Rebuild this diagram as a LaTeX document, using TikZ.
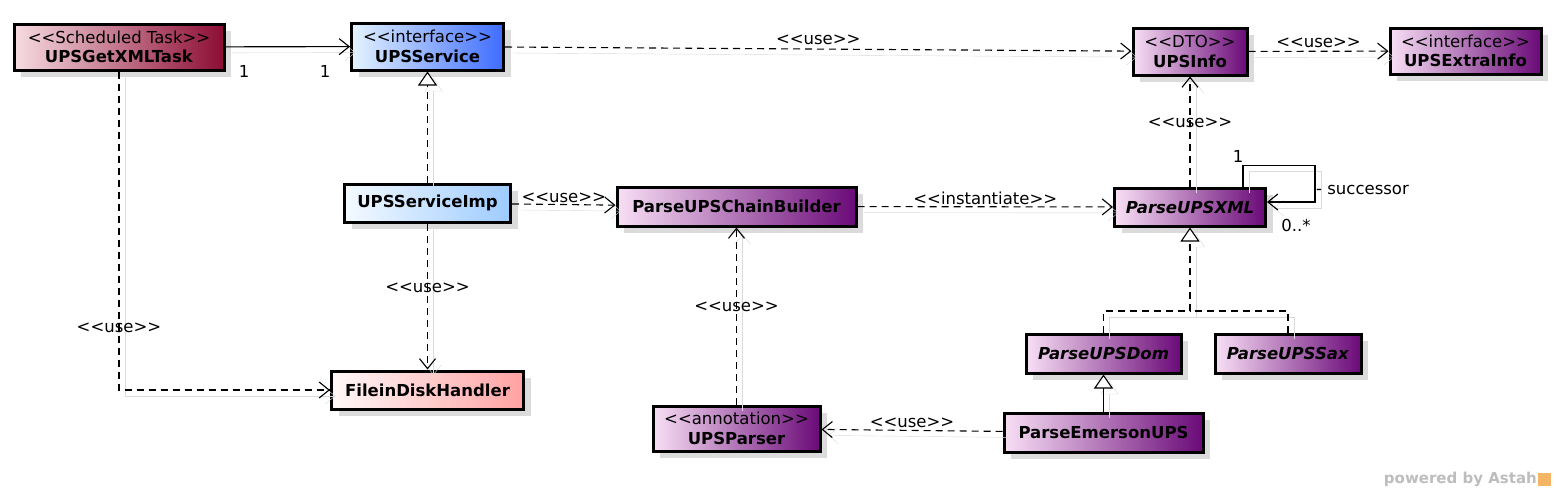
\documentclass[tikz,border=0pt]{standalone}
\usepackage{fontspec}
\setmainfont{DejaVu Sans}
\usepackage{tikz}
\usetikzlibrary{arrows.meta, positioning, shadows}
\definecolor{taskpink}{HTML}{F7DCE2}
\definecolor{taskred}{HTML}{8C0C34}
\definecolor{svclight}{HTML}{E4F4FF}
\definecolor{svcblue}{HTML}{3E6CFF}
\definecolor{implight}{HTML}{F4FAFF}
\definecolor{impblue}{HTML}{9DCBFF}
\definecolor{disklight}{HTML}{FFF8F8}
\definecolor{diskred}{HTML}{FFA2A2}
\definecolor{dtolight}{HTML}{F8DFF5}
\definecolor{dtopurple}{HTML}{6A0A78}
\definecolor{ghostgray}{HTML}{DADADA}
\definecolor{astahgray}{HTML}{BDBDBD}
\definecolor{astahorange}{HTML}{F4B566}
\newcommand{\stereo}[1]{<{}<#1>{}>}

\begin{document}
\begin{tikzpicture}[
  x=1pt, y=-1pt,
  cls/.style={draw=black, line width=3pt, minimum height=38pt, align=center, inner sep=2pt,
    font=\fontsize{16.5}{19.5}\selectfont,
    drop shadow={shadow xshift=7pt, shadow yshift=-7pt, fill=black!14, opacity=1}},
  dto/.style={cls, left color=dtolight, right color=dtopurple},
  lbl/.style={font=\fontsize{16.5}{19.5}\selectfont, inner sep=1pt},
  conn/.style={line width=1.1pt, preaction={draw=ghostgray, solid, transform canvas={shift={(6pt,-6pt)}}}},
  assoc/.style={conn, -{Straight Barb[length=10pt, width=16pt]}},
  dep/.style={conn, dash pattern=on 7pt off 5pt, -{Straight Barb[length=10pt, width=16pt]}},
  real/.style={conn, dash pattern=on 7pt off 5pt, -{Triangle[length=14pt, width=19pt, fill=white]}},
  gen/.style={conn, -{Triangle[length=14pt, width=19pt, fill=white]}}
]
  \path[fill=white] (0,0) rectangle (1556,493);

  % classes
  \node[cls, left color=taskpink, right color=taskred, minimum width=210pt, minimum height=46pt] (task) at (119,47) {\stereo{Scheduled Task}\\\textbf{UPSGetXMLTask}};
  \node[cls, left color=svclight, right color=svcblue, minimum width=152pt, minimum height=47pt] (svc) at (427.5,46.5) {\stereo{interface}\\\textbf{UPSService}};
  \node[dto, minimum width=114pt, minimum height=47pt] (info) at (1190,51.5) {\stereo{DTO}\\\textbf{UPSInfo}};
  \node[dto, minimum width=151pt, minimum height=46pt] (extra) at (1465.5,51) {\stereo{interface}\\\textbf{UPSExtraInfo}};
  \node[cls, left color=implight, right color=impblue, minimum width=166pt] (imp) at (427.5,203) {\textbf{UPSServiceImp}};
  \node[dto, minimum width=239pt, minimum height=39pt] (chain) at (736.5,206.5) {\textbf{ParseUPSChainBuilder}};
  \node[dto, minimum width=151pt] (xml) at (1190,207) {\textbf{\itshape ParseUPSXML}};
  \node[cls, left color=disklight, right color=diskred, minimum width=192pt] (disk) at (427.5,390) {\textbf{FileinDiskHandler}};
  \node[dto, minimum width=155pt, minimum height=39pt] (dom) at (1103.5,353.5) {\textbf{\itshape ParseUPSDom}};
  \node[dto, minimum width=146pt, minimum height=39pt] (sax) at (1288,353.5) {\textbf{\itshape ParseUPSSax}};
  \node[dto, minimum width=167pt, minimum height=45pt] (parser) at (736.5,428.5) {\stereo{annotation}\\\textbf{UPSParser}};
  \node[dto, minimum width=199pt, minimum height=39pt] (emerson) at (1103.5,432.5) {\textbf{ParseEmersonUPS}};
  \coordinate (fork) at (1190,311);

  % relations
  \draw[assoc] (task) -- node[lbl, pos=0.15, yshift=-25pt]{1} node[lbl, pos=0.8, yshift=-25pt]{1} (svc);
  \draw[dep] (svc) -- node[lbl, midway, yshift=9pt]{\stereo{use}} (info);
  \draw[dep] (info) -- node[lbl, midway, yshift=8pt]{\stereo{use}} (extra);
  \draw[dep] (xml) -- node[lbl, pos=0.58]{\stereo{use}} (info);
  \draw[assoc] ([xshift=53pt]xml.north) -- ++(0,-21) -| ([xshift=48pt, yshift=5pt]xml.east)
    -- ([yshift=5pt]xml.east);
  \node[lbl] (one) at (1238,156) {1};
  \node[lbl, anchor=west] (succ) at (1315,190) {- successor};
  \node[lbl] (many) at (1296,225) {0..*};
  \draw[real] (imp) -- (svc);
  \draw[dep] (imp) -- node[lbl, midway, yshift=7pt]{\stereo{use}} (chain);
  \draw[dep] (chain) -- node[lbl, midway, yshift=8pt]{\stereo{instantiate}} (xml);
  \draw[dep] (imp) -- node[lbl, pos=0.44]{\stereo{use}} (disk);
  \draw[dep] (task.south) |- node[lbl, pos=0.403]{\stereo{use}} (disk);
  \draw[dep] (parser) -- node[lbl, pos=0.55]{\stereo{use}} (chain);
  \draw[dep] (emerson) -- node[lbl, midway, yshift=8pt]{\stereo{use}} (parser);
  \draw[real] (dom.north) |- (fork) -- (xml);
  \draw[real, -] (sax.north) |- (fork);
  \draw[gen] (emerson) -- (dom);

  % watermark
  \node[font=\bfseries\fontsize{15}{17}\selectfont, text=astahgray, anchor=east, inner sep=0pt] (astah) at (1537,479) {powered by Astah};
  \node[fill=astahorange, minimum size=13pt, inner sep=0pt, right=1pt of astah] (logo) {};
\end{tikzpicture}
\end{document}
